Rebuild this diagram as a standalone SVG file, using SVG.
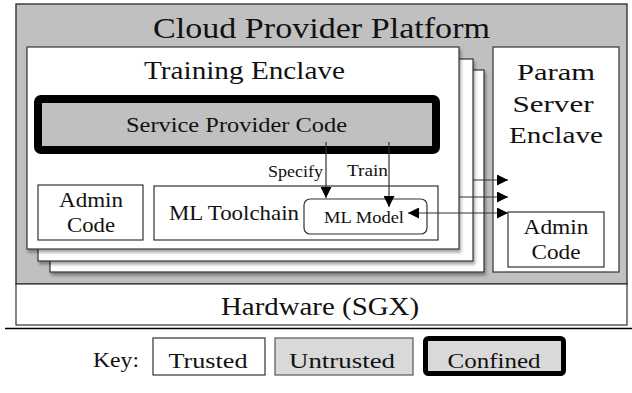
<svg xmlns="http://www.w3.org/2000/svg" width="632" height="393" viewBox="0 0 632 393">
<defs>
<style>
text{font-family:"Liberation Serif","Times New Roman",serif;fill:#111}
.box{fill:#fff;stroke:#333;stroke-width:1.2}
.gray{fill:#c0c0c0;stroke:#404040;stroke-width:1.5}
.conn{stroke:#333;stroke-width:1.2;fill:none}
.c{text-anchor:middle}
</style>
<filter id="sh" x="-5%" y="-5%" width="115%" height="120%">
<feDropShadow dx="1.5" dy="3" stdDeviation="1.5" flood-color="#000" flood-opacity="0.35"/>
</filter>
<marker id="ah" markerUnits="userSpaceOnUse" markerWidth="11" markerHeight="11" refX="10" refY="5" orient="auto-start-reverse" viewBox="0 0 10 10">
<path d="M0,0 L10,5 L0,10 z" fill="#000"/>
</marker>
</defs>

<g id="platform">
<rect class="gray" x="16" y="4" width="611" height="280"/>
<text class="c" x="321.5" y="38" font-size="29" textLength="337" lengthAdjust="spacingAndGlyphs">Cloud Provider Platform</text>
</g>

<g id="hardware">
<rect class="box" x="16" y="284" width="611" height="41" stroke="#404040" stroke-width="1.5"/>
<text class="c" x="320" y="315" font-size="26" textLength="198" lengthAdjust="spacingAndGlyphs">Hardware (SGX)</text>
</g>
<line x1="5" y1="328.5" x2="632" y2="328.5" stroke="#000" stroke-width="1.6"/>

<g id="training-enclave-3">
<rect class="box" x="50" y="70" width="434" height="202" filter="url(#sh)"/>
</g>
<g id="training-enclave-2">
<rect class="box" x="38" y="59" width="435" height="202" filter="url(#sh)"/>
</g>
<g id="training-enclave">
<rect class="box" x="27" y="47" width="432" height="202" filter="url(#sh)"/>
<text class="c" x="244.5" y="79" font-size="26" textLength="201" lengthAdjust="spacingAndGlyphs">Training Enclave</text>
</g>

<g id="service-provider-code">
<rect x="38" y="99" width="398" height="51" rx="3" fill="#c0c0c0" stroke="#000" stroke-width="8"/>
<text class="c" x="236.5" y="132" font-size="22" textLength="221" lengthAdjust="spacingAndGlyphs">Service Provider Code</text>
</g>

<g id="admin-code-left">
<rect class="box" x="38" y="185" width="105" height="55"/>
<text class="c" x="91" y="207" font-size="22" textLength="64" lengthAdjust="spacingAndGlyphs">Admin</text>
<text class="c" x="91" y="232" font-size="22" textLength="48" lengthAdjust="spacingAndGlyphs">Code</text>
</g>

<g id="ml-toolchain">
<rect class="box" x="154" y="186" width="284" height="54"/>
<text x="169" y="220" font-size="22" textLength="130" lengthAdjust="spacingAndGlyphs">ML Toolchain</text>
</g>

<g id="ml-model">
<rect class="box" x="304" y="199" width="123" height="35" rx="6"/>
<text x="324" y="223" font-size="17" textLength="80" lengthAdjust="spacingAndGlyphs">ML Model</text>
</g>

<g id="param-server-enclave">
<rect class="box" x="493" y="47" width="126" height="225"/>
<text class="c" x="556" y="80" font-size="23" textLength="78" lengthAdjust="spacingAndGlyphs">Param</text>
<text class="c" x="553" y="112" font-size="23" textLength="81" lengthAdjust="spacingAndGlyphs">Server</text>
<text class="c" x="556" y="143" font-size="23" textLength="94" lengthAdjust="spacingAndGlyphs">Enclave</text>
</g>

<g id="admin-code-right">
<rect class="box" x="508" y="212" width="96" height="55"/>
<text class="c" x="556" y="234" font-size="22" textLength="65" lengthAdjust="spacingAndGlyphs">Admin</text>
<text class="c" x="556" y="259" font-size="22" textLength="49" lengthAdjust="spacingAndGlyphs">Code</text>
</g>

<g id="connectors">
<line class="conn" x1="326" y1="142" x2="326" y2="198" marker-end="url(#ah)"/>
<line class="conn" x1="389" y1="142" x2="389" y2="207" marker-end="url(#ah)"/>
<line class="conn" x1="473" y1="180" x2="508" y2="180" marker-end="url(#ah)"/>
<line class="conn" x1="459" y1="197" x2="508" y2="197" marker-end="url(#ah)"/>
<line class="conn" x1="408" y1="213" x2="508" y2="213" marker-start="url(#ah)" marker-end="url(#ah)"/>
<text x="323" y="177" font-size="16" text-anchor="end" textLength="55" lengthAdjust="spacingAndGlyphs">Specify</text>
<text x="347" y="176" font-size="16" textLength="41" lengthAdjust="spacingAndGlyphs">Train</text>
</g>

<g id="key">
<text x="93" y="367" font-size="22" textLength="46" lengthAdjust="spacingAndGlyphs">Key:</text>
<rect class="box" x="153" y="338" width="112" height="37"/>
<text class="c" x="208" y="368" font-size="22" textLength="79" lengthAdjust="spacingAndGlyphs">Trusted</text>
<rect x="275" y="338" width="138" height="37" fill="#d9d9d9" stroke="#555" stroke-width="1.2"/>
<text class="c" x="342" y="368" font-size="22" textLength="106" lengthAdjust="spacingAndGlyphs">Untrusted</text>
<rect x="425.5" y="338.5" width="138" height="35" rx="3" fill="#d9d9d9" stroke="#000" stroke-width="5"/>
<text class="c" x="494" y="368" font-size="22" textLength="93" lengthAdjust="spacingAndGlyphs">Confined</text>
</g>
</svg>
